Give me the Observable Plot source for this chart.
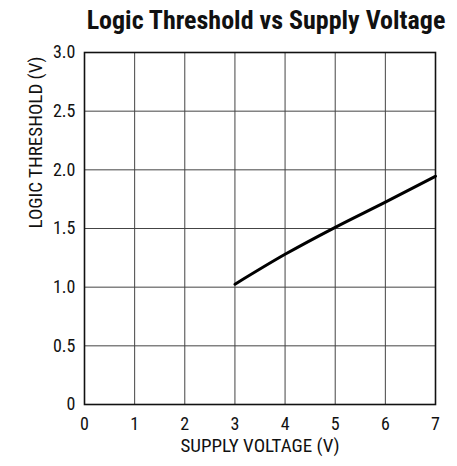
<!DOCTYPE html>
<html>
<head>
<meta charset="utf-8">
<script src="https://cdn.jsdelivr.net/npm/d3@7"></script>
<script src="https://cdn.jsdelivr.net/npm/@observablehq/plot@0.6"></script>
<style>
  body { margin: 0; background: #fff; }
  #title { position: relative; height: 30px; width: 457px; }
  #title span { position: absolute; left: 266px; top: 5px; transform: translateX(-50%); white-space: nowrap;
    font-family: "Liberation Sans Narrow", "Roboto Condensed", "DejaVu Sans Condensed", sans-serif;
    font-weight: bold; font-size: 26px; line-height: 30px; color: #111; }
</style>
</head>
<body>
<div id="title"><span>Logic Threshold vs Supply Voltage</span></div>
<div id="chart"></div>
<script>
const titleText = "Logic Threshold vs Supply Voltage";
const xLabel = "SUPPLY VOLTAGE (V)";
const yLabel = "LOGIC THRESHOLD (V)";
const xTicks = [0, 1, 2, 3, 4, 5, 6, 7];
const yTicks = [0, 0.5, 1.0, 1.5, 2.0, 2.5, 3.0];
const supplyVoltage = [3, 4, 5, 6, 7];
const logicThreshold = [1.025, 1.28, 1.51, 1.725, 1.945];

const data = supplyVoltage.map((v, i) => ({v, t: logicThreshold[i]}));
const font = '"Liberation Sans Narrow", "Roboto Condensed", "DejaVu Sans Condensed", sans-serif';

const chart = Plot.plot({
  width: 457,
  height: 436,
  marginLeft: 84,
  marginRight: 22,
  marginTop: 22,
  marginBottom: 62,
  style: {fontFamily: font, fontSize: "18px", color: "#111", background: "#fff", overflow: "visible"},
  x: {domain: [0, 7], ticks: xTicks, tickSize: 0, tickPadding: 13, label: null,
      tickFormat: d => String(d)},
  y: {domain: [0, 3], ticks: yTicks, tickSize: 0, tickPadding: 9, label: null,
      tickFormat: d => d === 0 ? "0" : d.toFixed(1)},
  marks: [
    Plot.gridX(xTicks, {stroke: "#444", strokeOpacity: 1, strokeWidth: 1}),
    Plot.gridY(yTicks, {stroke: "#444", strokeOpacity: 1, strokeWidth: 1}),
    Plot.frame({stroke: "#111", strokeWidth: 1.6}),
    Plot.line(data, {x: "v", y: "t", stroke: "#000", strokeWidth: 3, curve: "monotone-x"}),
    Plot.text([xLabel], {frameAnchor: "bottom", dy: 47, fontSize: 19, fill: "#111"}),
    Plot.text([yLabel], {frameAnchor: "left", dx: -49, rotate: -90, fontSize: 19, fill: "#111"})
  ]
});
document.getElementById("chart").appendChild(chart);
</script>
</body>
</html>
